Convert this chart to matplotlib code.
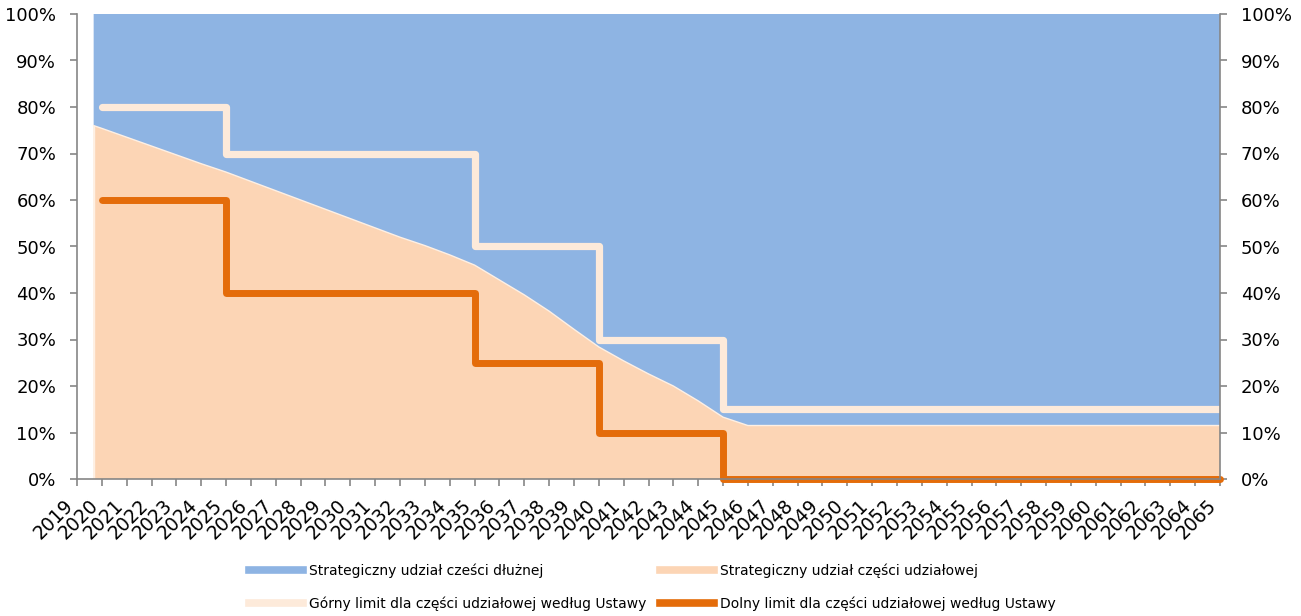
import numpy as np
import matplotlib
matplotlib.use("Agg")
import matplotlib.pyplot as plt
from matplotlib.lines import Line2D

# Data (percent)

years = [2019.67] + list(range(2020, 2066))
equity = [76.0, 75.4, 73.5, 71.6, 69.7, 67.8, 66.0, 64.0, 62.0, 60.0,
          58.0, 56.0, 54.0, 52.0, 50.2, 48.2, 46.0, 42.8, 39.6, 36.1,
          32.2, 28.4, 25.4, 22.6, 20.0, 16.8, 13.3,
          11.5, 11.5, 11.5, 11.5, 11.5, 11.5, 11.5, 11.5, 11.5, 11.5,
          11.5, 11.5, 11.5, 11.5, 11.5, 11.5, 11.5, 11.5, 11.5, 11.5]
debt = [100 - v for v in equity]

limit_years = [2020, 2025, 2035, 2040, 2045, 2065]
upper_limit = [80, 70, 50, 30, 15, 15]
lower_limit = [60, 40, 25, 10, 0, 0]

tick_years = list(range(2019, 2066))

labels = ["Strategiczny udział cześci dłużnej",
          "Strategiczny udział części udziałowej",
          "Górny limit dla części udziałowej według Ustawy",
          "Dolny limit dla części udziałowej według Ustawy"]

c_debt = "#8EB4E3"
c_eq = "#FCD5B5"
c_upper = "#FDEADA"
c_lower = "#E46C0A"
c_axis = "#868686"

plt.rcParams["font.family"] = ["DejaVu Sans"]

fig = plt.figure(figsize=(13.01, 6.16), dpi=100)
ax = fig.add_axes([77/1301, 137/616, 1143/1301, 465/616])

ax.stackplot(years, equity, debt, colors=[c_eq, c_debt], linewidth=0)
# thin light outline of the equity area
ax.plot(years, equity, color="#FEF0E4", lw=1.0)
ax.plot([years[0], years[0]], [0, equity[0]], color="#FEF0E4", lw=1.0)

ax.step(limit_years, upper_limit, where="post", color=c_upper, lw=5.2,
        solid_capstyle="round", solid_joinstyle="round")
ax.step(limit_years, lower_limit, where="post", color=c_lower, lw=5.0,
        solid_capstyle="round", solid_joinstyle="round", clip_on=False)

ax.set_xlim(2019, 2065)
ax.set_ylim(0, 100)

ax.set_yticks(range(0, 101, 10))
ax.set_yticklabels([f"{v}%" for v in range(0, 101, 10)])
ax.set_xticks(tick_years)
ax.set_xticklabels([str(y) for y in tick_years], rotation=45, ha="right")

ax.tick_params(axis="y", which="both", left=True, right=True,
               labelleft=True, labelright=True, length=5, width=1.2,
               color=c_axis, labelsize=13, pad=10)
ax.tick_params(axis="x", length=5, width=1.2, color=c_axis,
               labelsize=13.5, pad=7)

for side in ["left", "right", "bottom"]:
    ax.spines[side].set_color(c_axis)
    ax.spines[side].set_linewidth(1.2)
ax.spines["top"].set_visible(False)

# legend: two columns placed separately
h = [Line2D([], [], color=c, lw=5.5) for c in [c_debt, c_eq, c_upper, c_lower]]
leg_kw = dict(frameon=False, fontsize=10, handlelength=3.9,
              handletextpad=0.4, labelspacing=1.35, borderpad=0,
              borderaxespad=0, loc="upper left")
fig.legend([h[0], h[2]], [labels[0], labels[2]],
           bbox_to_anchor=(249/1301, 1 - 563/616), **leg_kw)
fig.legend([h[1], h[3]], [labels[1], labels[3]],
           bbox_to_anchor=(660/1301, 1 - 563/616), **leg_kw)

fig.savefig("out.png", dpi=100)
